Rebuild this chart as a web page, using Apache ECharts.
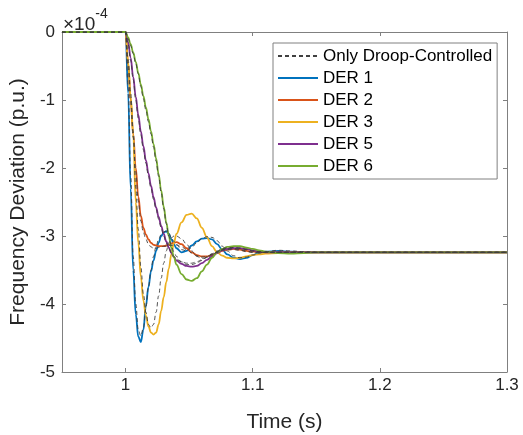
<!DOCTYPE html>
<html>
<head>
<meta charset="utf-8">
<script src="https://cdn.jsdelivr.net/npm/echarts@6/dist/echarts.min.js"></script>
<style>
html,body{margin:0;padding:0;background:#fff;}
#chart{width:523px;height:435px;}
</style>
</head>
<body>
<div id="chart"></div>
<script>
// Time (s)
var time = [0.95, 1.000, 1.002, 1.004, 1.006, 1.008, 1.010, 1.012, 1.014, 1.016, 1.018, 1.020, 1.022, 1.024, 1.026, 1.028, 1.030, 1.032, 1.034, 1.036, 1.038, 1.040, 1.044, 1.048, 1.052, 1.056, 1.060, 1.064, 1.068, 1.072, 1.076, 1.080, 1.085, 1.090, 1.095, 1.100, 1.105, 1.110, 1.120, 1.130, 1.140, 1.150, 1.200, 1.300];
// Frequency deviation (x 1e-4 p.u.)
var der1 = [0, 0, -0.9, -2.3, -3.5, -4.15, -4.48, -4.56, -4.38, -4.02, -3.75, -3.52, -3.36, -3.22, -3.1, -3.0, -2.95, -2.93, -2.97, -3.05, -3.12, -3.18, -3.24, -3.22, -3.14, -3.08, -3.04, -3.03, -3.05, -3.12, -3.2, -3.27, -3.32, -3.34, -3.32, -3.28, -3.25, -3.23, -3.22, -3.23, -3.24, -3.24, -3.24, -3.24];
var der2 = [0, 0, -0.45, -1.0, -1.5, -2.0, -2.42, -2.7, -2.88, -2.98, -3.05, -3.1, -3.13, -3.14, -3.15, -3.15, -3.15, -3.14, -3.13, -3.11, -3.1, -3.09, -3.12, -3.18, -3.24, -3.28, -3.3, -3.3, -3.28, -3.25, -3.22, -3.2, -3.19, -3.2, -3.22, -3.23, -3.24, -3.24, -3.24, -3.24, -3.24, -3.24, -3.24, -3.24];
var der3 = [0, 0, -0.45, -0.95, -1.5, -2.5, -3.1, -3.6, -3.95, -4.17, -4.33, -4.42, -4.45, -4.42, -4.3, -4.1, -3.9, -3.68, -3.48, -3.27, -3.1, -2.97, -2.8, -2.69, -2.67, -2.74, -2.88, -3.02, -3.15, -3.24, -3.29, -3.32, -3.33, -3.32, -3.3, -3.28, -3.27, -3.26, -3.25, -3.24, -3.24, -3.24, -3.24, -3.24];
var der5 = [0, 0, -0.15, -0.38, -0.66, -0.95, -1.22, -1.46, -1.68, -1.89, -2.08, -2.26, -2.43, -2.58, -2.72, -2.85, -2.97, -3.08, -3.17, -3.25, -3.31, -3.36, -3.41, -3.44, -3.45, -3.44, -3.4, -3.35, -3.3, -3.25, -3.21, -3.19, -3.18, -3.18, -3.19, -3.21, -3.23, -3.24, -3.24, -3.24, -3.24, -3.24, -3.24, -3.24];
var der6 = [0, 0, -0.08, -0.18, -0.3, -0.44, -0.6, -0.77, -0.94, -1.11, -1.28, -1.46, -1.65, -1.86, -2.09, -2.33, -2.57, -2.8, -3.0, -3.17, -3.31, -3.42, -3.56, -3.64, -3.66, -3.62, -3.52, -3.42, -3.32, -3.24, -3.19, -3.16, -3.15, -3.15, -3.17, -3.19, -3.21, -3.23, -3.25, -3.26, -3.25, -3.24, -3.24, -3.24];
// Only droop-controlled counterparts
var droop1 = [0, 0, -0.8, -2.1, -3.3, -4.0, -4.38, -4.47, -4.35, -4.05, -3.75, -3.5, -3.3, -3.15, -3.05, -2.98, -2.94, -2.93, -2.96, -3.02, -3.08, -3.13, -3.2, -3.22, -3.17, -3.1, -3.04, -3.01, -3.02, -3.07, -3.15, -3.22, -3.29, -3.32, -3.31, -3.28, -3.25, -3.23, -3.21, -3.22, -3.23, -3.24, -3.24, -3.24];
var droop2 = [0, 0, -0.5, -1.05, -1.55, -2.05, -2.48, -2.78, -2.95, -3.05, -3.12, -3.16, -3.18, -3.18, -3.17, -3.16, -3.15, -3.15, -3.14, -3.14, -3.13, -3.13, -3.16, -3.2, -3.25, -3.29, -3.31, -3.3, -3.27, -3.24, -3.21, -3.2, -3.2, -3.21, -3.23, -3.24, -3.24, -3.24, -3.24, -3.24, -3.24, -3.24, -3.24, -3.24];
var droop3 = [0, 0, -0.4, -0.9, -1.45, -2.3, -2.9, -3.45, -3.85, -4.12, -4.3, -4.35, -4.3, -4.12, -3.88, -3.62, -3.4, -3.22, -3.1, -3.03, -3.0, -3.0, -3.04, -3.12, -3.22, -3.3, -3.33, -3.32, -3.28, -3.24, -3.2, -3.18, -3.18, -3.2, -3.22, -3.24, -3.24, -3.24, -3.24, -3.24, -3.24, -3.24, -3.24, -3.24];
var droop5 = [0, 0, -0.18, -0.42, -0.7, -1.0, -1.27, -1.51, -1.73, -1.93, -2.12, -2.3, -2.46, -2.61, -2.75, -2.88, -3.0, -3.1, -3.18, -3.25, -3.3, -3.34, -3.38, -3.4, -3.4, -3.38, -3.35, -3.31, -3.27, -3.23, -3.2, -3.18, -3.17, -3.18, -3.2, -3.22, -3.23, -3.24, -3.24, -3.24, -3.24, -3.24, -3.24, -3.24];
var droop6 = [0, 0, -0.1, -0.2, -0.32, -0.46, -0.62, -0.8, -0.98, -1.15, -1.32, -1.5, -1.69, -1.9, -2.12, -2.36, -2.6, -2.82, -3.0, -3.14, -3.23, -3.3, -3.38, -3.42, -3.42, -3.4, -3.36, -3.31, -3.26, -3.22, -3.19, -3.17, -3.17, -3.18, -3.2, -3.22, -3.23, -3.24, -3.24, -3.24, -3.24, -3.24, -3.24, -3.24];
var xTicks = [1, 1.1, 1.2, 1.3];
var yTicks = [0, -1, -2, -3, -4, -5];

var FONT = '"Liberation Sans", Arial, Helvetica, sans-serif';
function pairs(v) { return time.map(function (t, i) { return [t, v[i]]; }); }

var colored = [
  { name: 'DER 1', v: der1, c: '#0072BD' },
  { name: 'DER 2', v: der2, c: '#D95319' },
  { name: 'DER 3', v: der3, c: '#EDB120' },
  { name: 'DER 5', v: der5, c: '#7E2F8E' },
  { name: 'DER 6', v: der6, c: '#77AC30' }
];
var droops = [droop1, droop2, droop3, droop5, droop6];

var series = [];
colored.forEach(function (s) {
  series.push({
    name: s.name, type: 'line', data: pairs(s.v), showSymbol: false, symbol: 'none',
    smooth: 0.4, smoothMonotone: 'x', color: s.c,
    lineStyle: { color: s.c, width: 1.8 }, z: 2
  });
});
droops.forEach(function (d) {
  series.push({
    name: 'Only Droop-Controlled', type: 'line', data: pairs(d), showSymbol: false, symbol: 'none',
    smooth: 0.4, smoothMonotone: 'x', color: '#404040',
    lineStyle: { color: '#404040', width: 0.9, type: [4, 3] }, z: 3
  });
});

var axisCol = '#808080';
var textCol = '#262626';
var option = {
  animation: false,
  backgroundColor: '#fff',
  grid: { left: 62, right: 16, top: 32, bottom: 63, containLabel: false, outerBoundsMode: 'none' },
  legend: {
    data: ['Only Droop-Controlled', 'DER 1', 'DER 2', 'DER 3', 'DER 5', 'DER 6'],
    orient: 'vertical', left: 273, top: 43,
    itemWidth: 40, itemHeight: 12, itemGap: 0,
    padding: [2, 5, 2, 4],
    itemStyle: { opacity: 0 },
    borderColor: axisCol, borderWidth: 1, backgroundColor: '#fff',
    textStyle: { fontFamily: FONT, fontSize: 17, color: '#000', lineHeight: 22 },
    selectedMode: false
  },
  xAxis: [{
    type: 'value', min: 0.95, max: 1.3, position: 'bottom',
    name: 'Time (s)', nameLocation: 'middle', nameGap: 40,
    nameTextStyle: { fontFamily: FONT, fontSize: 21, color: textCol },
    axisLine: { show: true, onZero: false, lineStyle: { color: axisCol, width: 1 } },
    axisTick: { show: true, inside: true, length: 4, customValues: xTicks, lineStyle: { color: axisCol } },
    axisLabel: { customValues: xTicks, margin: 5, fontFamily: FONT, fontSize: 17, color: textCol,
      formatter: function (v) { return String(Math.round(v * 10) / 10); } },
    splitLine: { show: false }
  }, {
    type: 'value', min: 0.95, max: 1.3, position: 'top',
    axisLine: { show: true, onZero: false, lineStyle: { color: axisCol, width: 1 } },
    axisTick: { show: true, inside: true, length: 4, customValues: xTicks, lineStyle: { color: axisCol } },
    axisLabel: { show: false }, splitLine: { show: false }
  }],
  yAxis: [{
    type: 'value', min: -5, max: 0, interval: 1, position: 'left',
    name: 'Frequency Deviation (p.u.)', nameLocation: 'middle', nameGap: 21,
    nameTextStyle: { fontFamily: FONT, fontSize: 21, color: textCol },
    axisLine: { show: true, onZero: false, lineStyle: { color: axisCol, width: 1 } },
    axisTick: { show: true, inside: true, length: 4, customValues: yTicks, lineStyle: { color: axisCol } },
    axisLabel: { customValues: yTicks, margin: 7, fontFamily: FONT, fontSize: 17, color: textCol },
    splitLine: { show: false }
  }, {
    type: 'value', min: -5, max: 0, interval: 1, position: 'right',
    axisLine: { show: true, onZero: false, lineStyle: { color: axisCol, width: 1 } },
    axisTick: { show: true, inside: true, length: 4, customValues: yTicks, lineStyle: { color: axisCol } },
    axisLabel: { show: false }, splitLine: { show: false }
  }],
  graphic: [{
    type: 'text', left: 63, top: 7,
    style: {
      text: '{a|×10}{b|-4}', fill: textCol,
      rich: {
        a: { fontFamily: FONT, fontSize: 19, verticalAlign: 'bottom', padding: [8, 0, 0, 0] },
        b: { fontFamily: FONT, fontSize: 14, verticalAlign: 'top' }
      }
    }
  }],
  series: series
};
var chart = echarts.init(document.getElementById('chart'), null, { renderer: 'canvas' });
chart.setOption(option);
</script>
</body>
</html>
